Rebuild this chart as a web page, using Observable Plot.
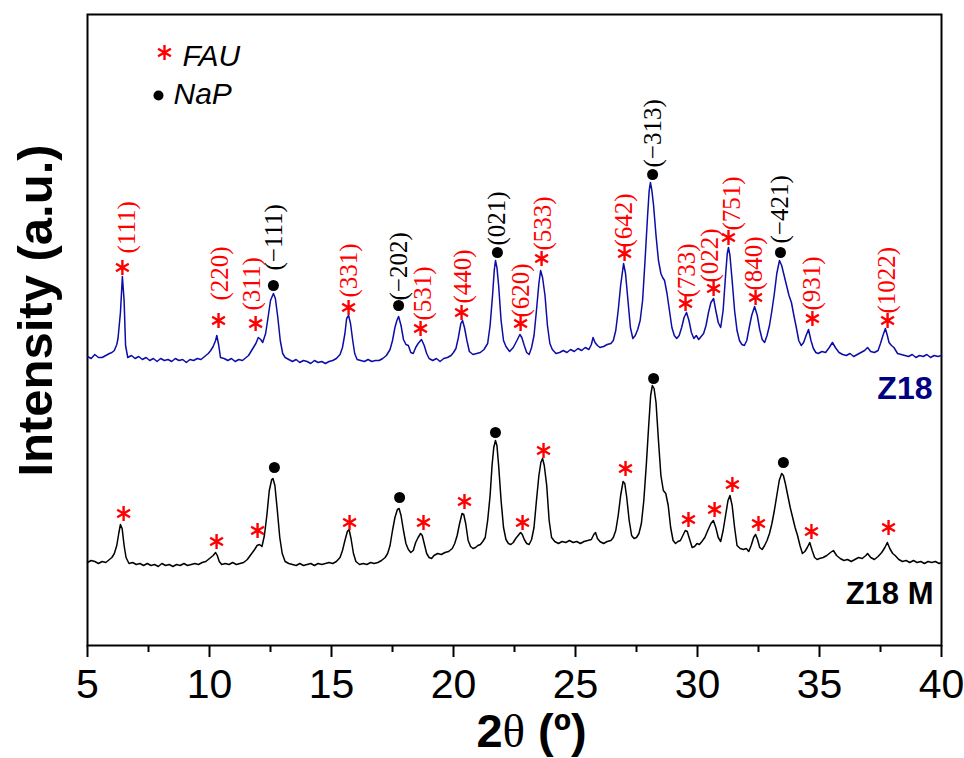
<!DOCTYPE html>
<html>
<head>
<meta charset="utf-8">
<script src="https://cdn.jsdelivr.net/npm/d3@7"></script>
<script src="https://cdn.jsdelivr.net/npm/@observablehq/plot@0.6"></script>
<style>
  html, body { margin: 0; padding: 0; background: #fff; }
  #chart svg { display: block; }
</style>
</head>
<body>
<div id="chart"></div>
<script>
// ---------- DATA ----------
// X tick values (2θ, degrees)
const majorTicks = [5, 10, 15, 20, 25, 30, 35, 40];
const minorTicks = [7.5, 12.5, 17.5, 22.5, 27.5, 32.5, 37.5];

// Z18 pattern: [2θ, intensity (a.u., offset stacked)]
const z18Trace = [
[5.0,289],[5.15,287],[5.3,291],[5.45,288],[5.6,288],[5.75,290],[5.9,292],[6.0,293],[6.1,295],[6.2,301],[6.25,307],[6.35,333],[6.43,369],[6.5,345],[6.56,300],[6.65,288],[6.8,290],[6.95,287],[7.1,289],[7.25,286],[7.4,288],[7.55,285],[7.7,287],[7.85,284],[8.0,287],[8.15,285],[8.3,286],[8.45,284],[8.6,287],[8.75,285],[8.9,286],[9.05,283],[9.2,286],[9.35,285],[9.5,287],[9.65,286],[9.8,289],[9.95,292],[10.05,295],[10.15,299],[10.25,305],[10.3,310],[10.38,300],[10.45,288],[10.6,287],[10.75,285],[10.9,287],[11.05,284],[11.2,286],[11.35,285],[11.5,288],[11.6,290],[11.7,294],[11.8,298],[11.9,302],[12.0,308],[12.1,306],[12.18,303],[12.3,312],[12.4,328],[12.5,345],[12.62,352],[12.7,347],[12.8,328],[12.9,305],[13.0,292],[13.1,288],[13.25,286],[13.4,284],[13.55,286],[13.7,283],[13.85,285],[14.0,284],[14.15,282],[14.3,285],[14.45,283],[14.6,284],[14.75,282],[14.9,284],[15.05,285],[15.2,287],[15.35,291],[15.45,298],[15.55,312],[15.62,327],[15.7,330],[15.78,322],[15.87,305],[15.95,292],[16.05,286],[16.2,285],[16.35,284],[16.5,286],[16.65,284],[16.8,285],[16.95,285],[17.1,287],[17.25,290],[17.4,296],[17.5,305],[17.6,318],[17.68,325],[17.75,329],[17.85,320],[17.95,306],[18.05,301],[18.15,300],[18.25,293],[18.35,292],[18.45,298],[18.55,302],[18.69,306],[18.8,300],[18.9,292],[19.0,287],[19.15,285],[19.3,287],[19.45,284],[19.6,287],[19.75,288],[19.9,290],[20.0,293],[20.1,297],[20.2,308],[20.3,322],[20.37,325],[20.45,318],[20.55,305],[20.65,294],[20.8,291],[20.95,292],[21.1,293],[21.25,296],[21.4,302],[21.5,320],[21.6,350],[21.67,375],[21.72,385],[21.78,378],[21.85,360],[21.95,325],[22.05,305],[22.15,299],[22.3,294],[22.45,298],[22.6,305],[22.72,311],[22.8,308],[22.9,300],[23.0,293],[23.1,291],[23.2,298],[23.3,310],[23.4,335],[23.5,362],[23.57,375],[23.65,368],[23.75,350],[23.85,320],[23.95,302],[24.05,296],[24.2,292],[24.35,293],[24.5,295],[24.65,293],[24.8,296],[24.95,294],[25.1,297],[25.25,295],[25.4,298],[25.55,296],[25.65,301],[25.72,308],[25.8,303],[25.9,300],[26.0,298],[26.15,299],[26.3,301],[26.45,302],[26.55,305],[26.65,315],[26.75,335],[26.85,360],[26.97,382],[27.05,372],[27.15,345],[27.25,318],[27.35,307],[27.45,310],[27.55,316],[27.65,325],[27.75,345],[27.85,385],[27.95,428],[28.02,455],[28.07,463],[28.13,455],[28.2,440],[28.3,410],[28.4,385],[28.5,372],[28.57,368],[28.65,365],[28.75,352],[28.85,335],[28.95,318],[29.05,310],[29.15,307],[29.25,310],[29.35,318],[29.45,328],[29.55,333],[29.65,325],[29.75,313],[29.85,307],[29.95,310],[30.05,306],[30.15,309],[30.25,312],[30.35,320],[30.45,333],[30.55,343],[30.66,347],[30.75,335],[30.85,323],[30.95,318],[31.05,335],[31.15,370],[31.22,392],[31.27,398],[31.33,390],[31.42,365],[31.52,335],[31.62,315],[31.72,305],[31.82,301],[31.92,300],[32.02,305],[32.12,318],[32.22,330],[32.34,339],[32.45,330],[32.55,316],[32.65,306],[32.75,303],[32.85,310],[32.95,320],[33.05,335],[33.15,352],[33.25,372],[33.36,385],[33.45,380],[33.55,370],[33.65,360],[33.75,350],[33.85,343],[33.95,330],[34.05,318],[34.15,305],[34.25,300],[34.35,303],[34.45,310],[34.55,316],[34.65,305],[34.75,297],[34.85,293],[34.95,292],[35.1,294],[35.25,293],[35.4,298],[35.53,303],[35.65,298],[35.8,293],[35.95,291],[36.1,290],[36.25,292],[36.4,289],[36.55,291],[36.7,293],[36.85,295],[36.97,298],[37.1,294],[37.25,293],[37.4,295],[37.5,302],[37.6,310],[37.7,317],[37.78,310],[37.85,303],[37.95,300],[38.05,298],[38.2,292],[38.35,291],[38.5,290],[38.65,289],[38.8,291],[38.95,288],[39.1,290],[39.25,289],[39.4,291],[39.55,288],[39.7,290],[39.85,289],[40.0,290]
];

// Z18 M pattern: [2θ, intensity (a.u.)]
const z18mTrace = [
[5.0,83],[5.15,85],[5.3,84],[5.45,82],[5.6,84],[5.75,83],[5.9,86],[6.0,88],[6.1,92],[6.2,100],[6.28,112],[6.35,121],[6.42,117],[6.5,100],[6.58,88],[6.7,82],[6.85,83],[7.0,81],[7.15,82],[7.3,80],[7.45,82],[7.6,80],[7.75,81],[7.9,79],[8.05,82],[8.2,80],[8.35,81],[8.5,79],[8.65,81],[8.8,80],[8.95,82],[9.1,80],[9.25,81],[9.4,82],[9.55,81],[9.7,83],[9.85,84],[9.95,86],[10.05,88],[10.15,90],[10.25,93],[10.32,90],[10.4,84],[10.5,81],[10.65,82],[10.8,81],[10.95,83],[11.1,81],[11.25,82],[11.4,83],[11.55,86],[11.7,91],[11.85,96],[11.95,100],[12.05,101],[12.15,99],[12.25,110],[12.35,130],[12.45,155],[12.55,166],[12.6,167],[12.68,160],[12.78,135],[12.88,108],[12.98,92],[13.1,84],[13.25,82],[13.4,81],[13.55,80],[13.7,82],[13.85,80],[14.0,81],[14.15,82],[14.3,80],[14.45,82],[14.6,81],[14.75,82],[14.9,83],[15.05,82],[15.2,84],[15.35,88],[15.45,95],[15.55,105],[15.65,114],[15.72,116],[15.8,107],[15.9,92],[16.0,84],[16.15,81],[16.3,82],[16.45,81],[16.6,83],[16.75,82],[16.9,83],[17.05,85],[17.2,88],[17.3,92],[17.4,100],[17.5,115],[17.6,128],[17.7,136],[17.77,137],[17.85,130],[17.95,115],[18.05,102],[18.15,96],[18.25,93],[18.35,95],[18.45,103],[18.55,108],[18.65,112],[18.72,110],[18.8,102],[18.9,92],[19.0,88],[19.1,87],[19.2,90],[19.35,92],[19.5,91],[19.65,93],[19.8,94],[19.95,97],[20.05,102],[20.15,110],[20.25,122],[20.35,132],[20.42,131],[20.5,122],[20.6,105],[20.7,99],[20.8,97],[20.9,98],[21.0,100],[21.1,101],[21.2,104],[21.3,108],[21.4,125],[21.5,150],[21.58,180],[21.65,198],[21.72,205],[21.78,200],[21.85,180],[21.95,145],[22.05,118],[22.15,106],[22.25,102],[22.35,101],[22.45,103],[22.55,107],[22.65,110],[22.75,113],[22.82,111],[22.9,106],[23.0,102],[23.1,101],[23.2,106],[23.3,118],[23.4,145],[23.5,170],[23.58,183],[23.65,187],[23.72,180],[23.82,160],[23.92,125],[24.02,108],[24.15,104],[24.3,102],[24.45,104],[24.6,103],[24.75,105],[24.9,103],[25.05,104],[25.2,102],[25.35,104],[25.5,105],[25.65,106],[25.75,111],[25.82,113],[25.9,107],[26.0,104],[26.15,102],[26.3,104],[26.45,105],[26.55,108],[26.65,115],[26.75,130],[26.85,150],[26.95,164],[27.02,162],[27.1,148],[27.2,125],[27.3,110],[27.4,107],[27.5,108],[27.6,112],[27.7,122],[27.8,145],[27.9,180],[28.0,220],[28.08,250],[28.15,260],[28.22,257],[28.3,243],[28.4,205],[28.5,170],[28.6,155],[28.7,152],[28.8,140],[28.9,118],[29.0,105],[29.1,102],[29.2,104],[29.3,105],[29.4,110],[29.5,115],[29.58,114],[29.68,106],[29.78,98],[29.88,99],[29.98,102],[30.08,101],[30.18,104],[30.3,108],[30.42,115],[30.55,122],[30.65,125],[30.75,118],[30.85,108],[30.95,104],[31.05,115],[31.15,130],[31.25,145],[31.33,150],[31.42,140],[31.52,118],[31.62,100],[31.75,97],[31.88,96],[32.0,97],[32.1,94],[32.2,100],[32.3,108],[32.38,111],[32.46,106],[32.55,98],[32.65,96],[32.75,100],[32.85,105],[32.95,112],[33.05,122],[33.15,135],[33.25,150],[33.35,165],[33.45,172],[33.52,170],[33.6,162],[33.7,150],[33.8,138],[33.9,128],[34.0,118],[34.1,110],[34.2,100],[34.3,92],[34.4,94],[34.5,98],[34.6,103],[34.7,95],[34.8,88],[34.9,86],[35.0,87],[35.15,88],[35.3,90],[35.45,93],[35.57,95],[35.7,90],[35.85,87],[36.0,85],[36.15,86],[36.3,84],[36.45,86],[36.6,88],[36.75,87],[36.9,90],[36.97,92],[37.1,88],[37.25,86],[37.4,89],[37.55,93],[37.68,98],[37.78,103],[37.88,97],[38.0,92],[38.1,90],[38.25,86],[38.4,84],[38.55,85],[38.7,83],[38.85,85],[39.0,83],[39.15,84],[39.3,82],[39.45,84],[39.6,83],[39.75,84],[39.9,82],[40.0,83]
];

// Z18 reflections: phase, hkl, marker 2θ, marker height, label 2θ, label height
const z18Phase  = ["FAU","FAU","FAU","NaP","FAU","NaP","FAU","FAU","NaP","FAU","FAU","FAU","NaP","FAU","FAU","FAU","FAU","NaP","FAU","FAU"];
const z18Hkl    = ["(111)","(220)","(311)","(−111)","(331)","(−202)","(531)","(440)","(021)","(620)","(533)","(642)","(−313)","(733)","(022)","(751)","(840)","(−421)","(931)","(1022)"];
const z18MarkX  = [6.43,10.37,11.89,12.62,15.70,17.75,18.65,20.33,21.80,22.75,23.61,27.01,28.16,29.51,30.66,31.27,32.38,33.40,34.71,37.79];
const z18MarkI  = [378,325,322,360,338,340,317,333,393,322,387,392,471,342,357,408,348,393,327,325];
const z18LabelX = [6.60,10.45,11.76,12.66,15.70,17.75,18.77,20.37,21.80,22.75,23.65,26.97,28.16,29.55,30.53,31.43,32.30,33.40,34.71,37.75];
const z18LabelI = [392,345,335,375,348,345,325,342,400,328,395,398,478,348,363,415,355,402,335,332];

// Z18 M reflections (markers only)
const z18mPhase = ["FAU","FAU","FAU","NaP","FAU","NaP","FAU","FAU","NaP","FAU","FAU","FAU","NaP","FAU","FAU","FAU","FAU","NaP","FAU","FAU"];
const z18mMarkX = [6.48,10.29,11.97,12.66,15.74,17.79,18.77,20.45,21.72,22.83,23.69,27.05,28.20,29.63,30.70,31.43,32.50,33.52,34.67,37.83];
const z18mMarkI = [132,104,115,178,123,148,123,144,213,123,195,177,267,126,136,161,122,183,114,118];

// Text
const seriesNames = ["Z18", "Z18 M"];
const legendNames = ["FAU", "NaP"];
const xTitle = "2θ (º)";
const yTitle = "Intensity (a.u.)";

// ---------- BUILD ----------
const z18Rows = z18Trace.map(([t, i]) => ({t, i}));
const z18mRows = z18mTrace.map(([t, i]) => ({t, i}));
const z18Refl = z18Hkl.map((h, k) => ({phase: z18Phase[k], hkl: h, mx: z18MarkX[k], my: z18MarkI[k], lx: z18LabelX[k], ly: z18LabelI[k]}));
const z18mRefl = z18mPhase.map((p, k) => ({phase: p, mx: z18mMarkX[k], my: z18mMarkI[k]}));
const allRefl = z18Refl.concat(z18mRefl);

const RED = "#ff0000";
const BLUE = "#0c0ca6";
const NAVY = "#000080";
const SANS = "Liberation Sans, Arial, sans-serif";
const SERIF = "Liberation Serif, Times New Roman, serif";

const chart = Plot.plot({
  width: 964,
  height: 758,
  marginLeft: 87,
  marginRight: 23,
  marginTop: 14,
  marginBottom: 113,
  style: {fontFamily: SANS, background: "white", overflow: "visible"},
  x: {domain: [5, 40], label: null},
  y: {domain: [0, 631], axis: null},
  marks: [
    Plot.frame({stroke: "black", strokeWidth: 2}),
    Plot.axisX({ticks: majorTicks, tickSize: 12, tickPadding: 11, strokeWidth: 2, fontSize: 41, fontFamily: SANS, fill: "black", tickFormat: d => String(d), label: null}),
    Plot.axisX({ticks: minorTicks, tickSize: 7, strokeWidth: 2, tickFormat: () => "", label: null}),
    Plot.line(z18Rows, {x: "t", y: "i", stroke: BLUE, strokeWidth: 1.5}),
    Plot.line(z18mRows, {x: "t", y: "i", stroke: "black", strokeWidth: 1.5}),
    // phase markers
    Plot.dot(allRefl.filter(d => d.phase === "FAU"), {x: "mx", y: "my", symbol: "asterisk", r: 7, stroke: RED, strokeWidth: 2.4}),
    Plot.dot(allRefl.filter(d => d.phase === "NaP"), {x: "mx", y: "my", r: 5.5, fill: "black", stroke: "none"}),
    // hkl labels (Z18)
    Plot.text(z18Refl.filter(d => d.phase === "FAU"), {x: "lx", y: "ly", text: "hkl", rotate: -90, textAnchor: "start", lineAnchor: "middle", fill: RED, fontFamily: SERIF, fontSize: 25}),
    Plot.text(z18Refl.filter(d => d.phase === "NaP"), {x: "lx", y: "ly", text: "hkl", rotate: -90, textAnchor: "start", lineAnchor: "middle", fill: "black", fontFamily: SERIF, fontSize: 25}),
    // legend
    Plot.dot([legendNames[0]], {frameAnchor: "top-left", dx: 77, dy: 38, symbol: "asterisk", r: 7, stroke: RED, strokeWidth: 2.4}),
    Plot.dot([legendNames[1]], {frameAnchor: "top-left", dx: 71, dy: 81, r: 5, fill: "black", stroke: "none"}),
    Plot.text([legendNames[0]], {frameAnchor: "top-left", text: d => d, dx: 95, dy: 51, textAnchor: "start", lineAnchor: "bottom", fontSize: 30, fontStyle: "italic", fontFamily: SANS, fill: "black"}),
    Plot.text([legendNames[1]], {frameAnchor: "top-left", text: d => d, dx: 86, dy: 89, textAnchor: "start", lineAnchor: "bottom", fontSize: 30, fontStyle: "italic", fontFamily: SANS, fill: "black"}),
    // series names
    Plot.text([seriesNames[0]], {frameAnchor: "top-right", text: d => d, dx: -9, dy: 384, textAnchor: "end", lineAnchor: "bottom", fontSize: 32, fontWeight: "bold", fontFamily: SANS, fill: NAVY}),
    Plot.text([seriesNames[1]], {frameAnchor: "top-right", text: d => d, dx: -8, dy: 589, textAnchor: "end", lineAnchor: "bottom", fontSize: 31, fontWeight: "bold", fontFamily: SANS, fill: "black"}),
    // axis titles
    Plot.text([xTitle], {frameAnchor: "bottom", text: d => d, dx: 17, dy: 101, textAnchor: "middle", lineAnchor: "bottom", fontSize: 47, fontWeight: "bold", fontFamily: SANS, fill: "black"}),
    Plot.text([yTitle], {frameAnchor: "left", text: d => d, dx: -36, dy: -19.5, rotate: -90, textAnchor: "middle", lineAnchor: "bottom", fontSize: 49, fontWeight: "bold", fontFamily: SANS, fill: "black"})
  ]
});

// Render θ in a serif, regular face like the original axis title
d3.select(chart).selectAll("text").filter(function () { return this.textContent === xTitle; }).each(function () {
  const t = d3.select(this);
  t.text(null);
  t.append("tspan").text("2");
  t.append("tspan").attr("font-family", SERIF).attr("font-weight", "normal").text("θ");
  t.append("tspan").text(" (º)");
});

document.getElementById("chart").append(chart);
</script>
</body>
</html>
